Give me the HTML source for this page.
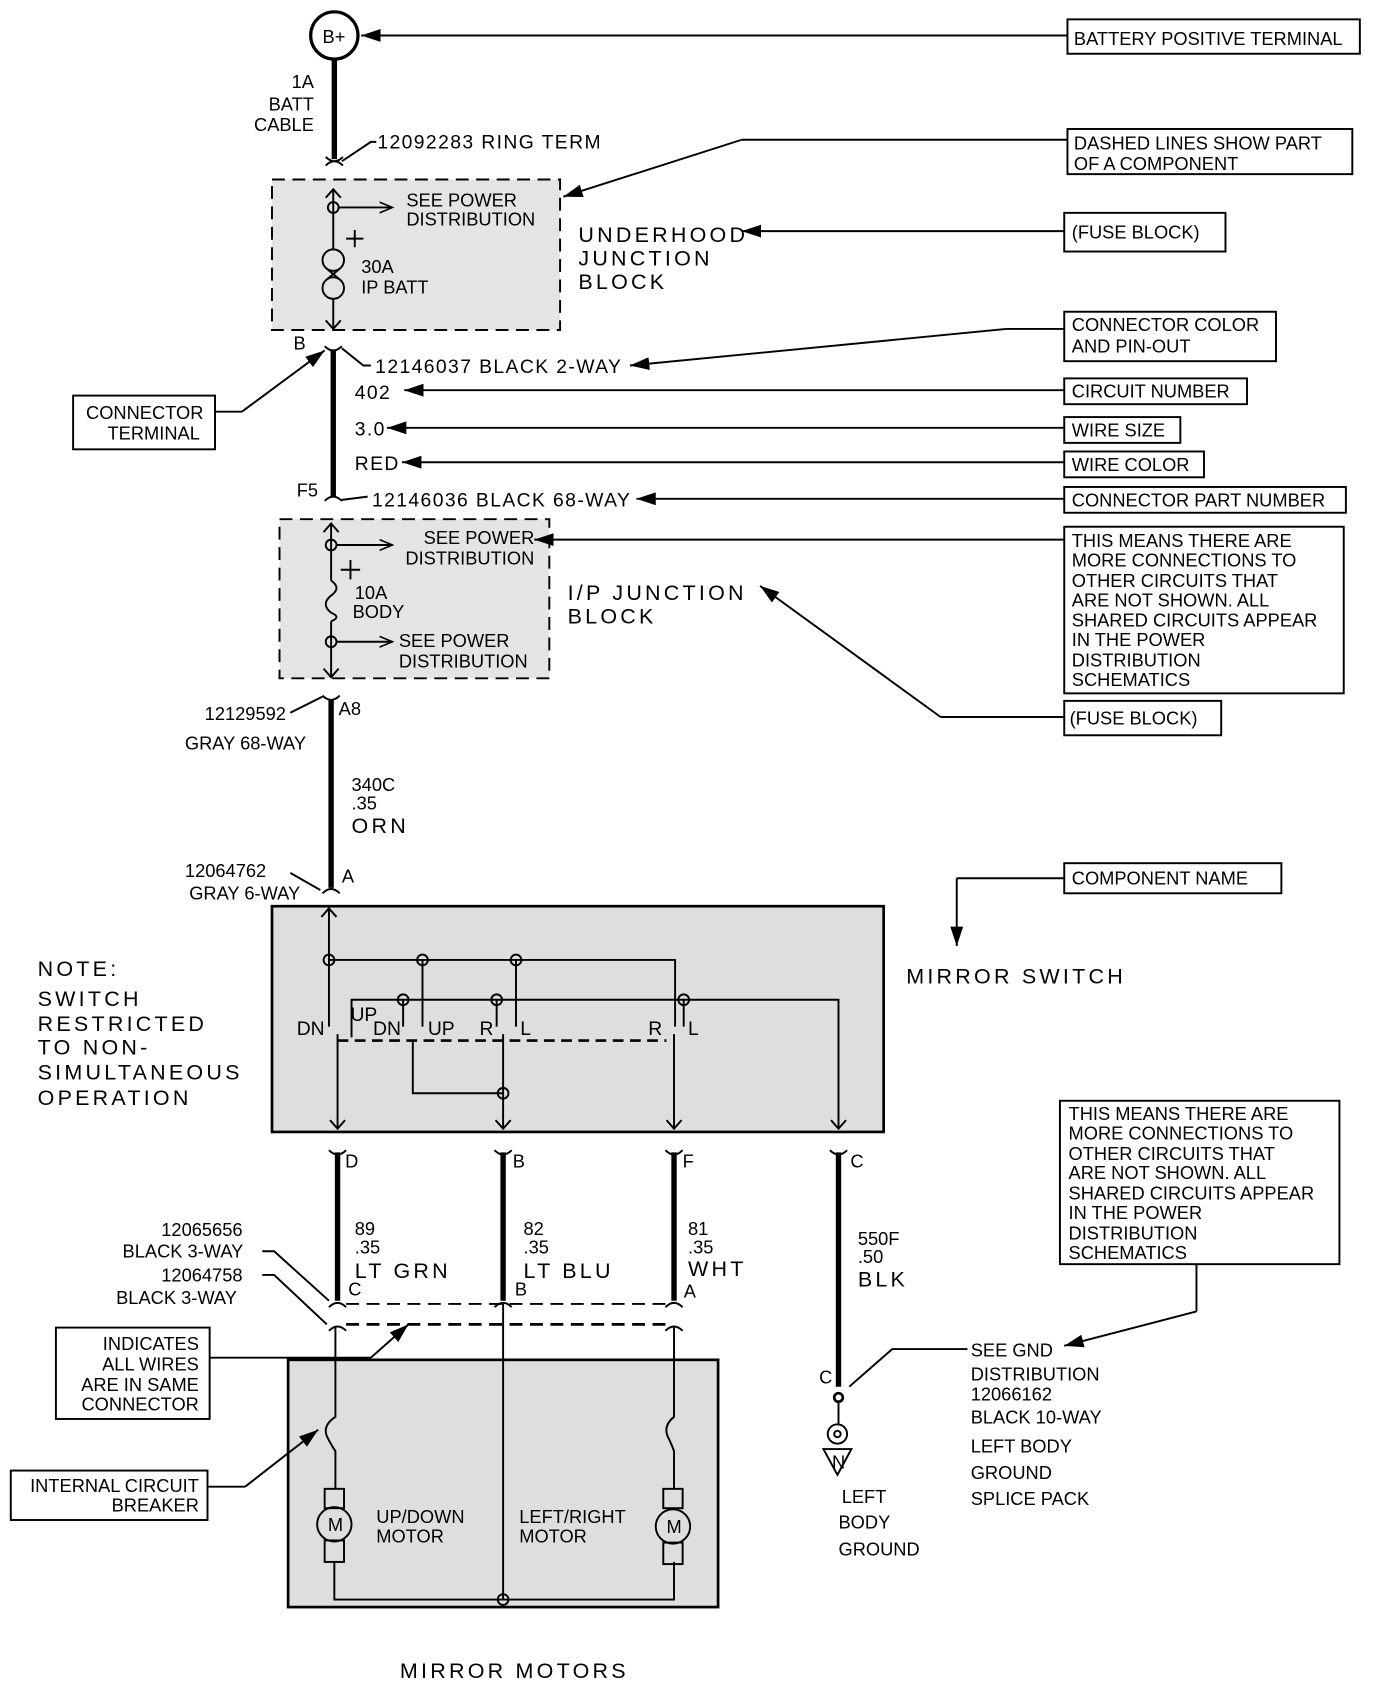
<!DOCTYPE html>
<html><head><meta charset="utf-8"><style>
html,body{margin:0;padding:0;background:#fff;}
svg{display:block;}
text{font-family:"Liberation Sans",sans-serif;font-size:17px;fill:#000;}
.big{font-size:20px;letter-spacing:3px;}
.w{font-size:18px;letter-spacing:1.3px;}
.sw{font-size:18px;}
</style></head><body>
<svg width="1376" height="1692" viewBox="0 0 1280 1574" xmlns="http://www.w3.org/2000/svg">
<defs>
<marker id="b" markerWidth="20" markerHeight="14" refX="18" refY="7" orient="auto" markerUnits="userSpaceOnUse"><path d="M0,1 L18,7 L0,13 Z" fill="#000"/></marker>
<marker id="o" markerWidth="14" markerHeight="12" refX="12" refY="6" orient="auto" markerUnits="userSpaceOnUse"><path d="M0,1 L12,6 L0,11" fill="none" stroke="#000" stroke-width="1.5"/></marker>
</defs>
<g stroke="#000" fill="none" stroke-width="1.8">
<circle cx="311" cy="33" r="22" stroke-width="3"/>
<line x1="993" y1="33" x2="336" y2="33" marker-end="url(#b)"/>
<rect x="993" y="18" width="272" height="32"/>
<line x1="311" y1="55" x2="311" y2="148" stroke-width="5"/>
<path d="M303,146 q8,8 16,0 M303,154 q8,-8 16,0"/>
<path d="M318,150 L345,132 L350,132"/>
<rect x="253" y="167" width="268" height="140" fill="#e4e4e4" stroke-dasharray="12,7"/>
<line x1="310" y1="176" x2="310" y2="232"/>
<path d="M303,184 L310,176 L317,184 M303,298 L310,306 L317,298"/>
<line x1="310" y1="278" x2="310" y2="306"/>
<circle cx="310" cy="193" r="5"/>
<line x1="315" y1="193" x2="365" y2="193" marker-end="url(#o)"/>
<circle cx="310" cy="242" r="10"/><circle cx="310" cy="268" r="10"/>
<path d="M304,250 L316,260 M316,250 L304,260"/>
<path d="M322,222 h16 M330,214 v16"/>
<line x1="993" y1="130" x2="690" y2="130"/><line x1="690" y1="130" x2="524" y2="183" marker-end="url(#b)"/>
<rect x="993" y="120" width="265" height="42"/>
<line x1="990" y1="215" x2="690" y2="215" marker-end="url(#b)"/>
<rect x="990" y="198" width="150" height="36"/>
<path d="M302,322 q8,8 16,0"/>
<line x1="310" y1="326" x2="310" y2="462" stroke-width="5"/>
<path d="M318,324 L338,340 L345,340"/>
<line x1="990" y1="306" x2="936" y2="306"/><line x1="936" y1="306" x2="586" y2="340" marker-end="url(#b)"/>
<rect x="990" y="290" width="197" height="46"/>
<rect x="68" y="368" width="132" height="50"/>
<path d="M200,383 L225,383"/><line x1="225" y1="383" x2="302" y2="326" marker-end="url(#b)"/>
<line x1="990" y1="363" x2="376" y2="363" marker-end="url(#b)"/><rect x="990" y="352" width="170" height="24"/>
<line x1="990" y1="398" x2="360" y2="398" marker-end="url(#b)"/><rect x="990" y="388" width="108" height="24"/>
<line x1="990" y1="430" x2="374" y2="430" marker-end="url(#b)"/><rect x="990" y="420" width="130" height="24"/>
<path d="M302,466 q8,-8 16,0 M318,465 L342,462"/>
<line x1="990" y1="464" x2="592" y2="464" marker-end="url(#b)"/><rect x="990" y="453" width="262" height="24"/>
<rect x="260" y="483" width="251" height="148" fill="#e4e4e4" stroke-dasharray="12,7"/>
<path d="M308,487 V540 M301,495 L308,487 L315,495 M301,622 L308,630 L315,622 M308,578 V630"/>
<path d="M308,540 q10,7 0,14 q-10,8 0,16 q10,4 0,8"/>
<circle cx="308" cy="507" r="5"/><line x1="313" y1="507" x2="365" y2="507" marker-end="url(#o)"/>
<circle cx="308" cy="597" r="5"/><line x1="313" y1="597" x2="365" y2="597" marker-end="url(#o)"/>
<path d="M317,530 h18 M326,521 v18"/>
<line x1="990" y1="502" x2="497" y2="502" marker-end="url(#b)"/>
<rect x="990" y="490" width="260" height="155"/>
<path d="M990,667 L875,667"/><line x1="875" y1="667" x2="707" y2="545" marker-end="url(#b)"/>
<rect x="990" y="652" width="146" height="32"/>
<path d="M300,647 q8,8 16,0 M270,663 L300,648"/>
<line x1="308" y1="651" x2="308" y2="826" stroke-width="5"/>
<path d="M300,831 q8,-8 16,0 M270,812 L298,828"/>
<rect x="253" y="843" width="569" height="210" fill="#dedede" stroke-width="2.5"/>
<path d="M306,845 V955 M299,853 L306,845 L313,853"/>
<path d="M306,893 H628 V955"/>
<path d="M393,893 V955 M480,893 V955"/>
<circle cx="306" cy="893" r="5"/><circle cx="393" cy="893" r="5"/><circle cx="480" cy="893" r="5"/>
<path d="M327,965 V930 H780 V1050 M773,1042 L780,1050 L787,1042"/>
<path d="M375,930 V955 M462,930 V955 M636,930 V955"/>
<circle cx="375" cy="930" r="5"/><circle cx="462" cy="930" r="5"/><circle cx="636" cy="930" r="5"/>
<path d="M314,968 H620" stroke-dasharray="10,6" stroke-width="2.5"/>
<path d="M314,962 V1050 M307,1042 L314,1050 L321,1042"/>
<path d="M384,968 V1017 H468"/>
<path d="M468,962 V1050 M461,1042 L468,1050 L475,1042"/>
<circle cx="468" cy="1017" r="5"/>
<path d="M627,962 V1050 M620,1042 L627,1050 L634,1042"/>
<path d="M990,817 L890,817"/><line x1="890" y1="817" x2="890" y2="880" marker-end="url(#b)"/>
<rect x="990" y="803" width="202" height="28"/>
<g stroke-width="5">
<line x1="314" y1="1072" x2="314" y2="1210"/><line x1="468" y1="1072" x2="468" y2="1210"/>
<line x1="627" y1="1072" x2="627" y2="1210"/><line x1="780" y1="1072" x2="780" y2="1290"/>
</g>
<path d="M306,1070 q8,8 16,0 M460,1070 q8,8 16,0 M619,1070 q8,8 16,0 M772,1070 q8,8 16,0"/>
<path d="M306,1216 q8,-8 16,0 M460,1216 q8,-8 16,0 M619,1216 q8,-8 16,0"/>
<path d="M322,1213 H620" stroke-dasharray="12,7"/>
<path d="M306,1238 q8,-8 16,0 M619,1238 q8,-8 16,0"/>
<path d="M322,1232 H620" stroke-dasharray="12,7" stroke-width="2.5"/>
<path d="M244,1164 L255,1164 L306,1210 M244,1186 L255,1186 L304,1232"/>
<rect x="52" y="1235" width="143" height="85"/>
<path d="M195,1263 L345,1263"/><line x1="345" y1="1263" x2="380" y2="1232" marker-end="url(#b)"/>
<rect x="268" y="1265" width="400" height="230" fill="#dedede" stroke-width="2.5"/>
<path d="M312,1234 V1318 q-12,8 -8,18 q4,8 8,14 V1385"/>
<rect x="302" y="1385" width="18" height="18"/><circle cx="311" cy="1418" r="16"/><rect x="302" y="1433" width="18" height="20"/>
<path d="M311,1453 V1488 H627 V1453"/>
<path d="M627,1234 V1318 q-10,8 -6,18 q4,8 6,14 V1385"/>
<rect x="617" y="1385" width="18" height="18"/><circle cx="626" cy="1420" r="16"/><rect x="617" y="1435" width="18" height="20"/>
<line x1="468" y1="1213" x2="468" y2="1488"/>
<circle cx="468" cy="1488" r="5"/>
<rect x="10" y="1368" width="183" height="46"/>
<path d="M193,1383 L228,1383"/><line x1="228" y1="1383" x2="296" y2="1330" marker-end="url(#b)"/>
<circle cx="780" cy="1300" r="4" stroke-width="2.5"/>
<line x1="780" y1="1304" x2="780" y2="1326"/>
<circle cx="779" cy="1334" r="9"/><circle cx="779" cy="1334" r="3"/>
<path d="M766,1348 L792,1348 L779,1372 Z"/>
<path d="M790,1290 L830,1255 L900,1255"/>
<rect x="986" y="1024" width="260" height="152"/>
<path d="M1113,1176 V1220"/><line x1="1113" y1="1220" x2="990" y2="1252" marker-end="url(#b)"/>
</g>
<g>
<text x="300" y="40" font-size="15">B+</text>
<text x="292" y="82" text-anchor="end">1A</text><text x="292" y="103" text-anchor="end">BATT</text><text x="292" y="122" text-anchor="end">CABLE</text>
<text x="351" y="138" class="w">12092283 RING TERM</text>
<text x="999" y="42">BATTERY POSITIVE TERMINAL</text>
<text x="999" y="139">DASHED LINES SHOW PART</text><text x="999" y="158">OF A COMPONENT</text>
<text x="378" y="192">SEE POWER</text><text x="378" y="210">DISTRIBUTION</text>
<text x="336" y="254">30A</text><text x="336" y="273">IP BATT</text>
<text x="538" y="225" class="big">UNDERHOOD</text><text x="538" y="247" class="big">JUNCTION</text><text x="538" y="269" class="big">BLOCK</text>
<text x="997" y="222">(FUSE BLOCK)</text>
<text x="273" y="325">B</text>
<text x="349" y="347" class="w">12146037 BLACK 2-WAY</text>
<text x="997" y="308">CONNECTOR COLOR</text><text x="997" y="328">AND PIN-OUT</text>
<text x="80" y="390">CONNECTOR</text><text x="100" y="409">TERMINAL</text>
<text x="330" y="371" class="w">402</text><text x="997" y="370">CIRCUIT NUMBER</text>
<text x="330" y="405" class="w">3.0</text><text x="997" y="406">WIRE SIZE</text>
<text x="330" y="437" class="w">RED</text><text x="997" y="438">WIRE COLOR</text>
<text x="276" y="462">F5</text>
<text x="346" y="471" class="w">12146036 BLACK 68-WAY</text><text x="997" y="471">CONNECTOR PART NUMBER</text>
<text x="497" y="506" text-anchor="end">SEE POWER</text><text x="497" y="525" text-anchor="end">DISTRIBUTION</text>
<text x="330" y="557">10A</text><text x="328" y="575">BODY</text>
<text x="371" y="602">SEE POWER</text><text x="371" y="621">DISTRIBUTION</text>
<text x="528" y="558" class="big">I/P JUNCTION</text><text x="528" y="580" class="big">BLOCK</text>
<text x="997" y="509">THIS MEANS THERE ARE</text><text x="997" y="527">MORE CONNECTIONS TO</text><text x="997" y="546">OTHER CIRCUITS THAT</text><text x="997" y="564">ARE NOT SHOWN. ALL</text><text x="997" y="583">SHARED CIRCUITS APPEAR</text><text x="997" y="601">IN THE POWER</text><text x="997" y="620">DISTRIBUTION</text><text x="997" y="638">SCHEMATICS</text>
<text x="995" y="674">(FUSE BLOCK)</text>
<text x="266" y="670" text-anchor="end">12129592</text><text x="172" y="697">GRAY 68-WAY</text><text x="315" y="665">A8</text>
<text x="327" y="736">340C</text><text x="327" y="753">.35</text><text x="327" y="775" class="big">ORN</text>
<text x="172" y="816">12064762</text><text x="176" y="837">GRAY 6-WAY</text><text x="318" y="821">A</text>
<text x="997" y="823">COMPONENT NAME</text>
<text x="843" y="915" class="big">MIRROR SWITCH</text>
<text x="35" y="908" class="big">NOTE:</text><text x="35" y="936" class="big">SWITCH</text><text x="35" y="959" class="big">RESTRICTED</text><text x="35" y="981" class="big">TO NON-</text><text x="35" y="1004" class="big">SIMULTANEOUS</text><text x="35" y="1028" class="big">OPERATION</text>
<text x="276" y="963" class="sw">DN</text><text x="326" y="950" class="sw">UP</text><text x="347" y="963" class="sw">DN</text><text x="398" y="963" class="sw">UP</text><text x="446" y="963" class="sw">R</text><text x="484" y="963" class="sw">L</text><text x="603" y="963" class="sw">R</text><text x="640" y="963" class="sw">L</text>
<text x="321" y="1086">D</text><text x="477" y="1086">B</text><text x="635" y="1086">F</text><text x="791" y="1086">C</text>
<text x="330" y="1149">89</text><text x="330" y="1166">.35</text><text x="330" y="1189" class="big">LT GRN</text>
<text x="487" y="1149">82</text><text x="487" y="1166">.35</text><text x="487" y="1189" class="big">LT BLU</text>
<text x="640" y="1149">81</text><text x="640" y="1166">.35</text><text x="640" y="1187" class="big">WHT</text>
<text x="798" y="1158">550F</text><text x="798" y="1175">.50</text><text x="798" y="1197" class="big">BLK</text>
<text x="150" y="1150">12065656</text><text x="114" y="1170">BLACK 3-WAY</text>
<text x="150" y="1192">12064758</text><text x="108" y="1213">BLACK 3-WAY</text>
<text x="324" y="1205">C</text><text x="479" y="1205">B</text><text x="636" y="1207">A</text>
<text x="185" y="1256" text-anchor="end">INDICATES</text><text x="185" y="1275" text-anchor="end">ALL WIRES</text><text x="185" y="1294" text-anchor="end">ARE IN SAME</text><text x="185" y="1312" text-anchor="end">CONNECTOR</text>
<text x="185" y="1388" text-anchor="end">INTERNAL CIRCUIT</text><text x="185" y="1406" text-anchor="end">BREAKER</text>
<text x="305" y="1424" font-size="13">M</text><text x="620" y="1426" font-size="13">M</text>
<text x="350" y="1417">UP/DOWN</text><text x="350" y="1435">MOTOR</text>
<text x="483" y="1417">LEFT/RIGHT</text><text x="483" y="1435">MOTOR</text>
<text x="372" y="1561" class="big">MIRROR MOTORS</text>
<text x="762" y="1287">C</text><text x="774" y="1366" font-size="11">N</text>
<text x="783" y="1398">LEFT</text><text x="780" y="1422">BODY</text><text x="780" y="1447">GROUND</text>
<text x="994" y="1042">THIS MEANS THERE ARE</text><text x="994" y="1060">MORE CONNECTIONS TO</text><text x="994" y="1079">OTHER CIRCUITS THAT</text><text x="994" y="1097">ARE NOT SHOWN. ALL</text><text x="994" y="1116">SHARED CIRCUITS APPEAR</text><text x="994" y="1134">IN THE POWER</text><text x="994" y="1153">DISTRIBUTION</text><text x="994" y="1171">SCHEMATICS</text>
<text x="903" y="1262">SEE GND</text><text x="903" y="1284">DISTRIBUTION</text><text x="903" y="1303">12066162</text><text x="903" y="1324">BLACK 10-WAY</text><text x="903" y="1351">LEFT BODY</text><text x="903" y="1376">GROUND</text><text x="903" y="1400">SPLICE PACK</text>
</g>
</svg>
</body></html>
